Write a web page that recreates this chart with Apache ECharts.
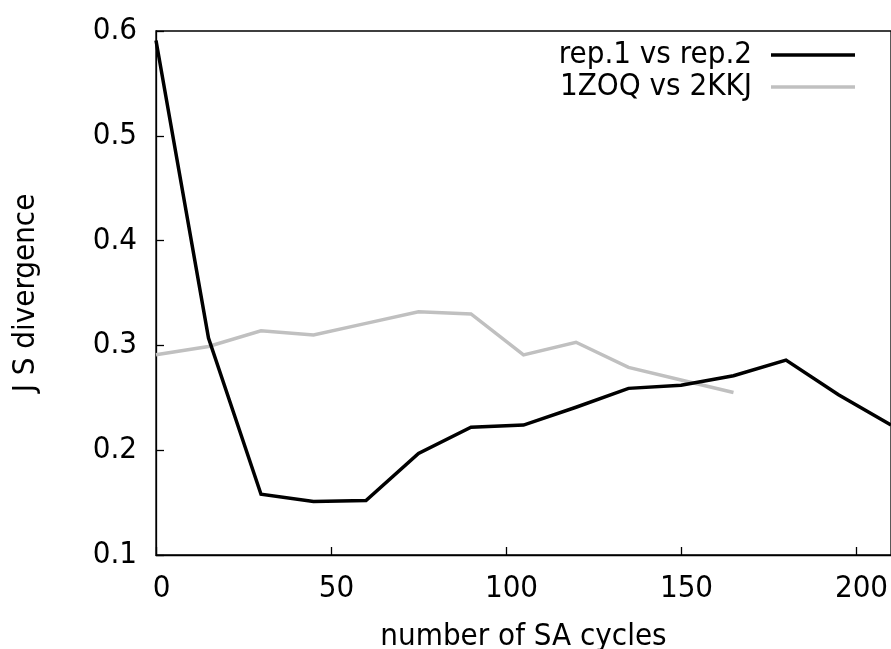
<!DOCTYPE html>
<html>
<head>
<meta charset="utf-8">
<script src="https://cdn.jsdelivr.net/npm/echarts@6/dist/echarts.min.js"></script>
<style>html,body{margin:0;padding:0;background:#fff}#c{width:891px;height:649px}</style>
</head>
<body>
<div id="c"></div>
<script>
const cycles = [0, 15, 30, 45, 60, 75, 90, 105, 120, 135, 150, 165, 180, 195, 210];
const rep1VsRep2 = [0.591, 0.307, 0.158, 0.151, 0.152, 0.197, 0.222, 0.224, 0.241, 0.259, 0.262, 0.271, 0.286, 0.253, 0.224];
const cycles2 = [0, 15, 30, 45, 60, 75, 90, 105, 120, 135, 150, 165];
const zoqVsKkj = [0.291, 0.299, 0.314, 0.310, 0.321, 0.332, 0.330, 0.291, 0.303, 0.279, 0.267, 0.255];
const seriesNames = ['rep.1 vs rep.2', '1ZOQ vs 2KKJ'];
const xTicks = [0, 50, 100, 150, 200];
const yTicks = [0.1, 0.2, 0.3, 0.4, 0.5, 0.6];

const FONT = '"DejaVu Sans Condensed", "DejaVu Sans"';
const FS = 31;
const chart = echarts.init(document.getElementById('c'), null, {renderer: 'canvas'});
chart.setOption({
  animation: false,
  backgroundColor: '#fff',
  grid: {left: 156, right: 0, top: 31, bottom: 649 - 555, containLabel: false, outerBoundsMode: 'none',
    show: true, borderColor: '#000', borderWidth: 1.3, backgroundColor: 'transparent'},
  legend: {
    orient: 'vertical',
    align: 'right',
    right: 31,
    top: 34,
    icon: 'rect',
    itemWidth: 84,
    itemHeight: 3.5,
    itemGap: 0,
    textStyle: {fontFamily: FONT, fontSize: FS, color: '#000', lineHeight: 32, padding: [0, 14, 0, 0]},
    data: seriesNames
  },
  xAxis: {
    type: 'value',
    min: 0, max: 210, interval: 50,
    name: 'number of SA cycles',
    nameLocation: 'middle',
    nameGap: 66,
    nameTextStyle: {fontFamily: FONT, fontSize: FS, color: '#000'},
    axisLine: {show: true, onZero: false, lineStyle: {color: '#000', width: 1.3}},
    axisTick: {show: true, inside: true, length: 8, lineStyle: {color: '#000', width: 1.3}},
    axisLabel: {fontFamily: FONT, fontSize: FS, color: '#000', margin: 18, padding: [0, 0, 0, 11], showMaxLabel: false,
      formatter: v => xTicks.includes(v) ? String(v) : ''},
    splitLine: {show: false}
  },
  yAxis: {
    type: 'value',
    min: 0.1, max: 0.6, interval: 0.1,
    name: 'J S divergence',
    nameLocation: 'middle',
    nameGap: 115,
    nameRotate: 90,
    nameTextStyle: {fontFamily: FONT, fontSize: FS, color: '#000'},
    axisLine: {show: true, onZero: false, lineStyle: {color: '#000', width: 1.3}},
    axisTick: {show: true, inside: true, length: 8, lineStyle: {color: '#000', width: 1.3}},
    axisLabel: {fontFamily: FONT, fontSize: FS, color: '#000', margin: 19,
      formatter: v => { const t = yTicks.find(y => Math.abs(y - v) < 1e-9); return t !== undefined ? t.toFixed(1) : ''; }},
    splitLine: {show: false}
  },
  series: [
    {
      name: seriesNames[0], type: 'line',
      data: cycles.map((c, i) => [c, rep1VsRep2[i]]),
      showSymbol: false, symbol: 'none',
      lineStyle: {color: '#000', width: 3.5, join: 'miter'},
      itemStyle: {color: '#000'},
      z: 3
    },
    {
      name: seriesNames[1], type: 'line',
      data: cycles2.map((c, i) => [c, zoqVsKkj[i]]),
      showSymbol: false, symbol: 'none',
      lineStyle: {color: '#c0c0c0', width: 3.5, join: 'miter'},
      itemStyle: {color: '#c0c0c0'},
      z: 2
    }
  ]
});
</script>
</body>
</html>
